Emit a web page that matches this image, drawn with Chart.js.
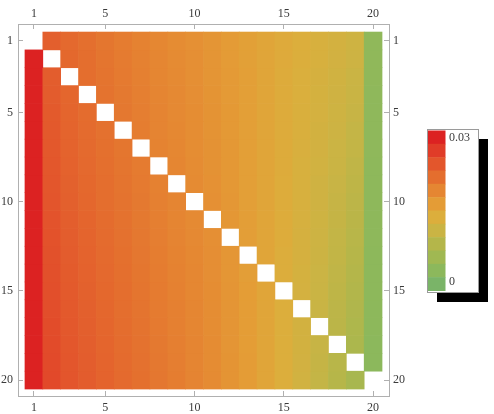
<!DOCTYPE html>
<html>
<head>
<meta charset="utf-8">
<script src="https://cdn.jsdelivr.net/npm/chart.js@4.4.1/dist/chart.umd.min.js"></script>
<style>
  html, body { margin: 0; padding: 0; background: #fff; }
  #wrap { width: 494px; height: 414px; }
</style>
</head>
<body>
<div id="wrap"><canvas id="matrix"></canvas></div>
<script>
const tickValues = [1, 5, 10, 15, 20];
const legendLabels = ["0.03", "0"];
const legendMax = 0.03;

// rows top to bottom, columns left to right; null = empty diagonal cell
const cellValues = [
  [null, 0.0228, 0.0218, 0.0211, 0.0204, 0.0198, 0.0192, 0.0186, 0.0181, 0.0176, 0.0170, 0.0164, 0.0157, 0.0150, 0.0143, 0.0137, 0.0131, 0.0125, 0.0118, 0.0042],
  [0.0292, null, 0.0219, 0.0212, 0.0205, 0.0199, 0.0193, 0.0187, 0.0182, 0.0177, 0.0171, 0.0164, 0.0157, 0.0150, 0.0143, 0.0136, 0.0130, 0.0123, 0.0116, 0.0042],
  [0.0292, 0.0230, null, 0.0213, 0.0206, 0.0200, 0.0194, 0.0188, 0.0183, 0.0177, 0.0171, 0.0165, 0.0158, 0.0150, 0.0142, 0.0135, 0.0128, 0.0121, 0.0113, 0.0042],
  [0.0292, 0.0231, 0.0221, null, 0.0207, 0.0201, 0.0195, 0.0189, 0.0184, 0.0178, 0.0172, 0.0165, 0.0158, 0.0150, 0.0142, 0.0135, 0.0127, 0.0119, 0.0111, 0.0041],
  [0.0292, 0.0233, 0.0222, 0.0215, null, 0.0202, 0.0196, 0.0190, 0.0184, 0.0179, 0.0173, 0.0166, 0.0158, 0.0150, 0.0142, 0.0134, 0.0126, 0.0118, 0.0109, 0.0041],
  [0.0292, 0.0234, 0.0223, 0.0216, 0.0209, null, 0.0197, 0.0190, 0.0185, 0.0180, 0.0173, 0.0166, 0.0158, 0.0150, 0.0141, 0.0133, 0.0124, 0.0116, 0.0106, 0.0041],
  [0.0292, 0.0235, 0.0224, 0.0217, 0.0210, 0.0204, null, 0.0191, 0.0186, 0.0180, 0.0174, 0.0167, 0.0159, 0.0150, 0.0141, 0.0132, 0.0123, 0.0114, 0.0104, 0.0041],
  [0.0292, 0.0236, 0.0225, 0.0218, 0.0211, 0.0205, 0.0199, null, 0.0187, 0.0181, 0.0174, 0.0167, 0.0159, 0.0150, 0.0141, 0.0131, 0.0122, 0.0112, 0.0101, 0.0040],
  [0.0292, 0.0237, 0.0226, 0.0219, 0.0212, 0.0206, 0.0200, 0.0193, null, 0.0182, 0.0175, 0.0167, 0.0159, 0.0150, 0.0140, 0.0131, 0.0120, 0.0110, 0.0099, 0.0040],
  [0.0292, 0.0238, 0.0227, 0.0220, 0.0213, 0.0207, 0.0201, 0.0194, 0.0189, null, 0.0176, 0.0168, 0.0159, 0.0150, 0.0140, 0.0130, 0.0119, 0.0108, 0.0097, 0.0040],
  [0.0292, 0.0240, 0.0229, 0.0222, 0.0215, 0.0208, 0.0201, 0.0195, 0.0189, 0.0183, null, 0.0168, 0.0160, 0.0150, 0.0140, 0.0129, 0.0118, 0.0107, 0.0094, 0.0040],
  [0.0292, 0.0241, 0.0230, 0.0223, 0.0216, 0.0209, 0.0202, 0.0196, 0.0190, 0.0184, 0.0177, null, 0.0160, 0.0150, 0.0140, 0.0128, 0.0117, 0.0105, 0.0092, 0.0040],
  [0.0292, 0.0242, 0.0231, 0.0224, 0.0217, 0.0210, 0.0203, 0.0197, 0.0191, 0.0185, 0.0178, 0.0169, null, 0.0150, 0.0139, 0.0128, 0.0115, 0.0103, 0.0090, 0.0039],
  [0.0292, 0.0243, 0.0232, 0.0225, 0.0218, 0.0211, 0.0204, 0.0198, 0.0192, 0.0186, 0.0178, 0.0169, 0.0160, null, 0.0139, 0.0127, 0.0114, 0.0101, 0.0087, 0.0039],
  [0.0292, 0.0244, 0.0233, 0.0226, 0.0219, 0.0212, 0.0205, 0.0199, 0.0193, 0.0186, 0.0179, 0.0170, 0.0161, 0.0150, null, 0.0126, 0.0113, 0.0099, 0.0085, 0.0039],
  [0.0292, 0.0245, 0.0234, 0.0227, 0.0220, 0.0213, 0.0206, 0.0199, 0.0194, 0.0187, 0.0179, 0.0170, 0.0161, 0.0150, 0.0138, null, 0.0111, 0.0097, 0.0082, 0.0039],
  [0.0292, 0.0247, 0.0235, 0.0228, 0.0221, 0.0214, 0.0207, 0.0200, 0.0194, 0.0188, 0.0180, 0.0171, 0.0161, 0.0150, 0.0138, 0.0124, null, 0.0096, 0.0080, 0.0039],
  [0.0292, 0.0248, 0.0236, 0.0229, 0.0222, 0.0215, 0.0208, 0.0201, 0.0195, 0.0189, 0.0181, 0.0171, 0.0161, 0.0150, 0.0138, 0.0124, 0.0109, null, 0.0078, 0.0038],
  [0.0292, 0.0249, 0.0237, 0.0230, 0.0223, 0.0216, 0.0209, 0.0202, 0.0196, 0.0189, 0.0181, 0.0172, 0.0162, 0.0150, 0.0137, 0.0123, 0.0107, 0.0092, null, 0.0038],
  [0.0290, 0.0250, 0.0238, 0.0231, 0.0224, 0.0217, 0.0210, 0.0203, 0.0197, 0.0190, 0.0182, 0.0172, 0.0162, 0.0150, 0.0137, 0.0122, 0.0106, 0.0090, 0.0073, null]
];

// colour bands, high value (top) to low value (bottom)
const bandColors = [
  "#dc2222", "#e03c28", "#e3562c", "#e46e2e", "#e58632", "#e49c36",
  "#dcae3c", "#cab444", "#b4b64a", "#a0b852", "#8cb85c", "#7ab468"
];

function hexToRgb(hex) {
  return [1, 3, 5].map(function (i) { return parseInt(hex.slice(i, i + 2), 16); });
}

function colorFor(value) {
  const t = Math.max(0, Math.min(1, value / legendMax));
  let pos = (1 - t) * bandColors.length - 0.5;
  pos = Math.max(0, Math.min(bandColors.length - 1, pos));
  const lo = Math.floor(pos);
  const hi = Math.min(bandColors.length - 1, lo + 1);
  const f = pos - lo;
  const a = hexToRgb(bandColors[lo]);
  const b = hexToRgb(bandColors[hi]);
  const rgb = a.map(function (c, i) { return Math.round(c + (b[i] - c) * f); });
  return "rgb(" + rgb.join(",") + ")";
}

const datasets = cellValues.map(function (row, r) {
  const rowNo = r + 1;
  return {
    label: "Row " + rowNo,
    data: row.map(function (v, c) {
      return { x: c + 1, y: v === null ? null : [rowNo - 0.5, rowNo + 0.5] };
    }),
    backgroundColor: row.map(function (v) {
      return v === null ? "rgba(0,0,0,0)" : colorFor(v);
    }),
    borderWidth: 0,
    grouped: false,
    barPercentage: 1,
    categoryPercentage: 1
  };
});

const frameColor = "#b0b0b0";
const labelFont = { family: "'Liberation Serif', 'DejaVu Serif', serif", size: 12 };
const labelColor = "#3a3a3a";

function axis(position, reverse, min, max, size, pad) {
  const horizontal = position === "top" || position === "bottom";
  return {
    type: "linear",
    position: position,
    reverse: reverse,
    min: min,
    max: max,
    offset: false,
    grid: { drawOnChartArea: false, offset: false, tickLength: -5, color: frameColor, lineWidth: 1 },
    border: { display: true, color: frameColor, width: 1 },
    ticks: { font: labelFont, color: labelColor, padding: pad, autoSkip: false, maxRotation: 0 },
    afterBuildTicks: function (scale) {
      scale.ticks = tickValues.map(function (v) { return { value: v }; });
    },
    afterFit: function (scale) {
      if (horizontal) scale.height = size; else scale.width = size;
    }
  };
}

const colorBarPlugin = {
  id: "colorBar",
  afterDraw: function (chart) {
    const ctx = chart.ctx;
    const area = chart.chartArea;
    const boxW = 51, boxH = 163;
    const left = area.right + 38;
    const top = Math.round((area.top + area.bottom) / 2 - boxH / 2);
    ctx.save();
    ctx.fillStyle = "#000";
    ctx.fillRect(left + 10, top + 10, boxW, boxH);
    ctx.fillStyle = "#fff";
    ctx.fillRect(left, top, boxW, boxH);
    const barTop = top + 1.5, barH = boxH - 3, barW = 18;
    const step = barH / bandColors.length;
    bandColors.forEach(function (c, i) {
      ctx.fillStyle = c;
      ctx.fillRect(left + 0.5, barTop + i * step, barW, step + 0.5);
    });
    ctx.strokeStyle = "#9a9a9a";
    ctx.lineWidth = 1;
    ctx.strokeRect(left + 0.5, top + 0.5, boxW, boxH);
    ctx.fillStyle = labelColor;
    ctx.font = "12px 'Liberation Serif', serif";
    ctx.textBaseline = "middle";
    ctx.textAlign = "left";
    ctx.fillText(legendLabels[0], left + 22, top + 9);
    ctx.fillText(legendLabels[1], left + 22, top + boxH - 10);
    ctx.restore();
  }
};

new Chart(document.getElementById("matrix"), {
  type: "bar",
  data: { datasets: datasets },
  options: {
    responsive: true,
    maintainAspectRatio: false,
    animation: false,
    devicePixelRatio: 1,
    layout: { padding: { left: 0, right: 80, top: 0, bottom: 0 } },
    plugins: { legend: { display: false }, tooltip: { enabled: false } },
    scales: {
      x: axis("bottom", false, 0.11, 20.89, 18, 10),
      x2: axis("top", false, 0.11, 20.89, 24, 8),
      y: axis("left", true, 0.05, 20.89, 18, 10),
      y2: axis("right", true, 0.05, 20.89, 25, 9)
    }
  },
  plugins: [colorBarPlugin]
});
</script>
</body>
</html>
